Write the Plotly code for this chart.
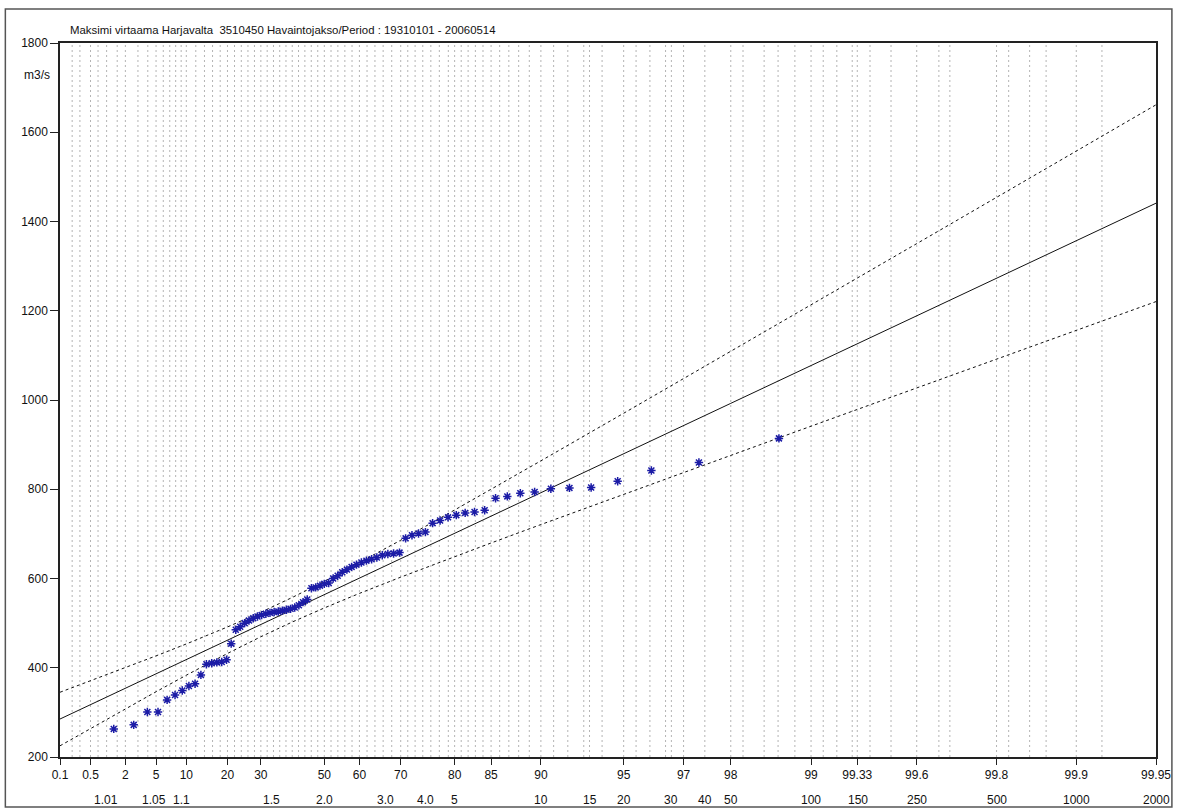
import numpy as np
import plotly.graph_objects as go

# ---------------- data ----------------
# Non-exceedance probability (%) of each plotted annual maximum
plot_pct = [1.32, 2.63, 3.95, 5.26, 6.58, 7.89, 9.21, 10.53, 11.84, 13.16,
            14.47, 15.79, 17.11, 18.42, 19.74, 21.05, 22.37, 23.68, 25.00, 26.32,
            27.63, 28.95, 30.26, 31.58, 32.89, 34.21, 35.53, 36.84, 38.16, 39.47,
            40.79, 42.11, 43.42, 44.74, 46.05, 47.37, 48.68, 50.00, 51.32, 52.63,
            53.95, 55.26, 56.58, 57.89, 59.21, 60.53, 61.84, 63.16, 64.47, 65.79,
            67.11, 68.42, 69.74, 71.05, 72.37, 73.68, 75.00, 76.32, 77.63, 78.95,
            80.26, 81.58, 82.89, 84.21, 85.53, 86.84, 88.16, 89.47, 90.79, 92.11,
            93.42, 94.74, 96.05, 97.37, 98.68]
# Observed annual maximum discharge (m3/s), sorted
obs_q = [263, 272, 301, 301, 328, 339, 349, 359, 364, 384,
         408, 410, 412, 413, 418, 454, 485, 492, 500, 506,
         511, 515, 518, 521, 523, 525, 526, 528, 530, 532,
         535, 540, 547, 553, 578, 580, 584, 588, 590, 600,
         606, 614, 620, 626, 631, 636, 640, 643, 647, 652,
         655, 656, 658, 690, 697, 701, 704, 724, 730, 737,
         742, 747, 749, 753, 780, 784, 791, 794, 801, 803,
         804, 818, 842, 860, 914]

# Fitted distribution and confidence limits
curve_pct = [0.1, 0.5, 2, 5, 10, 15, 20, 30, 40, 50, 60, 70, 80, 85, 90, 95,
             97, 98, 99, 99.6, 99.8, 99.9, 99.95]
fit_q = [285.1, 317.2, 354.0, 386.4, 418.3, 441.8, 461.7, 496.9, 530.0, 563.8,
         600.9, 644.4, 701.3, 739.7, 792.3, 879.6, 942.7, 992.5, 1077.2, 1188.7,
         1272.9, 1357.0, 1441.0]
upper_q = [345.1, 370.6, 400.1, 426.6, 453.3, 473.6, 491.4, 524.3, 557.5, 593.6,
           635.2, 685.8, 753.5, 799.8, 863.7, 970.3, 1047.7, 1108.9, 1213.1, 1350.4,
           1454.1, 1557.9, 1661.5]
lower_q = [225.1, 263.8, 307.9, 346.2, 383.3, 410.0, 432.0, 469.5, 502.5, 534.0,
           566.6, 603.0, 649.1, 679.6, 720.9, 788.9, 837.7, 876.1, 941.3, 1027.0,
           1091.7, 1156.1, 1220.5]

# Axis labels
prob_ticks = [0.1, 0.5, 2, 5, 10, 20, 30, 50, 60, 70, 80, 85, 90, 95, 97, 98,
              99, 99.33, 99.6, 99.8, 99.9, 99.95]
prob_labels = ["0.1", "0.5", "2", "5", "10", "20", "30", "50", "60", "70", "80",
               "85", "90", "95", "97", "98", "99", "99.33", "99.6", "99.8",
               "99.9", "99.95"]
return_periods = [1.01, 1.05, 1.1, 1.5, 2.0, 3.0, 4.0, 5, 10, 15, 20, 30, 40, 50,
                  100, 150, 250, 500, 1000, 2000]
return_labels = ["1.01", "1.05", "1.1", "1.5", "2.0", "3.0", "4.0", "5", "10",
                 "15", "20", "30", "40", "50", "100", "150", "250", "500",
                 "1000", "2000"]
grid_pct = [0.2, 0.3, 0.5, 0.7, 1, 1.5, 2, 3, 4, 5, 6, 7, 8, 9, 10, 12, 14,
            16, 18, 20, 22, 24, 26, 28, 30, 32, 34, 36, 38, 40, 42, 44, 46, 48,
            50, 52, 54, 56, 58, 60, 62, 64, 66, 68, 70, 71.5, 73, 74.5, 76,
            77.5, 79, 80, 81, 82, 83, 84, 85, 86, 87, 88, 89, 90, 91, 92, 93,
            93.33, 94, 95, 95.5, 96, 96.5, 96.67, 97, 97.5, 98, 98.2, 98.5,
            98.67, 98.85, 99, 99.1, 99.2, 99.3, 99.33, 99.4, 99.5, 99.6, 99.67,
            99.7, 99.8, 99.82, 99.85, 99.87, 99.9, 99.92]

TITLE = "Maksimi virtaama Harjavalta\u00a0 3510450 Havaintojakso/Period : 19310101 - 20060514"


# Gumbel probability-paper scale (reduced variate)
def gumbel(pct):
    p = np.asarray(pct, dtype=float) / 100.0
    return -np.log(-np.log(p))


FONT = "Liberation Sans, Arial, sans-serif"
xmin, xmax = float(gumbel(0.1)), float(gumbel(99.95))

fig = go.Figure()

# vertical dotted grid
gx, gy = [], []
for g in gumbel(grid_pct):
    gx += [float(g), float(g), None]
    gy += [200, 1800, None]
fig.add_trace(go.Scatter(x=gx, y=gy, mode="lines", hoverinfo="skip",
                         line=dict(color="#b4b4b4", width=1, dash="2px,3px"),
                         showlegend=False))

# confidence limits and fit
for q, dash in ((upper_q, "3px,3px"), (lower_q, "3px,3px"), (fit_q, "solid")):
    fig.add_trace(go.Scatter(x=gumbel(curve_pct), y=q, mode="lines",
                             line=dict(color="#111111", width=1, dash=dash),
                             showlegend=False))

# observations
fig.add_trace(go.Scatter(x=gumbel(plot_pct), y=obs_q, mode="markers",
                         marker=dict(symbol="asterisk-open", size=7,
                                     color="#1c1ca6",
                                     line=dict(color="#1c1ca6", width=1.5)),
                         showlegend=False))

W, H = 1183, 810
L, R, T, B = 60, 20, 43, 53
pw, ph = W - L - R, H - T - B


def px(xp):
    return (xp - L) / pw


def py(yp):
    return (H - B - yp) / ph


annotations = [
    dict(text=TITLE, xref="paper", yref="paper", x=px(68), y=py(30),
         xanchor="left", yanchor="middle", showarrow=False,
         font=dict(family=FONT, size=11.4, color="#111")),
    dict(text="m3/s", xref="paper", yref="paper", x=px(52), y=py(75),
         xanchor="right", yanchor="middle", showarrow=False,
         font=dict(family=FONT, size=12, color="#111")),
]
for T_, lab in zip(return_periods, return_labels):
    annotations.append(dict(text=lab, xref="x", yref="paper",
                            x=float(gumbel(100 * (1 - 1 / T_))), y=py(800),
                            xanchor="center", yanchor="middle", showarrow=False,
                            font=dict(family=FONT, size=12, color="#111")))

fig.update_layout(
    width=W, height=H,
    margin=dict(l=L, r=R, t=T, b=B),
    paper_bgcolor="white", plot_bgcolor="white",
    font=dict(family=FONT, size=12, color="#111"),
    showlegend=False,
    annotations=annotations,
    shapes=[dict(type="rect", xref="paper", yref="paper",
                 x0=px(5), x1=px(1179), y0=py(807), y1=py(9),
                 line=dict(color="#555", width=1.5), layer="below")],
    xaxis=dict(range=[xmin, xmax], tickmode="array",
               tickvals=gumbel(prob_ticks), ticktext=prob_labels,
               ticks="outside", ticklen=6, tickcolor="#222", tickwidth=1,
               showline=True, linecolor="#222", linewidth=1.5, mirror=True,
               showgrid=False, zeroline=False, fixedrange=True),
    yaxis=dict(range=[200, 1800], tickmode="array",
               tickvals=list(range(200, 1801, 200)),
               ticks="outside", ticklen=8, tickcolor="#222", tickwidth=1,
               showline=True, linecolor="#222", linewidth=1.5, mirror=True,
               showgrid=False, zeroline=False, fixedrange=True),
)

fig.write_html("out.html")
